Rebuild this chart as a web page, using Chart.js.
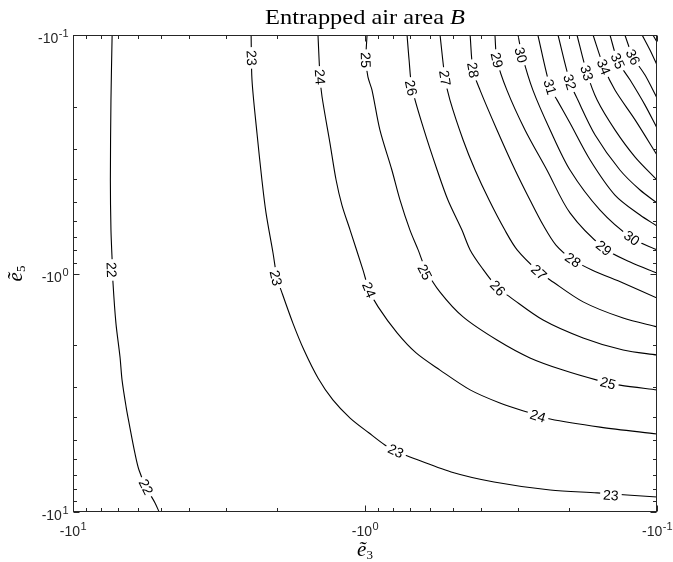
<!DOCTYPE html>
<html>
<head>
<meta charset="utf-8">
<script src="https://cdn.jsdelivr.net/npm/chart.js@4.4.1/dist/chart.umd.min.js"></script>
<style>
  html, body { margin: 0; padding: 0; background: #fff; }
  #wrap { width: 673px; height: 562px; position: relative; }
</style>
</head>
<body>
<div id="wrap"><canvas id="contour"></canvas></div>
<script>
// axes are in decades: x = -log10(-e3), y = -log10(-e5)
const levels = [22, 23, 24, 25, 26, 27, 28, 29, 30, 31, 32, 33, 34, 35, 36, 37, 38];

const c22 = [[-0.866,1.000],[-0.870,0.727],[-0.872,0.392],[-0.870,0.182],[-0.866,0.057],[-0.863,-0.040],[-0.853,-0.208],[-0.839,-0.350],[-0.832,-0.447],[-0.818,-0.560],[-0.808,-0.627],[-0.788,-0.753],[-0.774,-0.824],[-0.750,-0.895],[-0.719,-0.962],[-0.705,-1.000]];
const c23 = [[-0.390,1.000],[-0.387,0.811],[-0.370,0.589],[-0.353,0.392],[-0.339,0.254],[-0.315,0.086],[-0.301,-0.019],[-0.284,-0.082],[-0.247,-0.208],[-0.209,-0.321],[-0.161,-0.438],[-0.110,-0.530],[-0.051,-0.606],[0.014,-0.669],[0.068,-0.719],[0.106,-0.744],[0.154,-0.769],[0.295,-0.832],[0.442,-0.874],[0.634,-0.908],[0.795,-0.920],[1.000,-0.937]];
const c24 = [[-0.161,1.000],[-0.154,0.824],[-0.147,0.740],[-0.120,0.547],[-0.099,0.392],[-0.079,0.287],[-0.051,0.182],[-0.007,0.015],[0.014,-0.069],[0.045,-0.140],[0.110,-0.249],[0.175,-0.333],[0.257,-0.405],[0.360,-0.488],[0.462,-0.543],[0.555,-0.581],[0.634,-0.610],[0.805,-0.644],[1.000,-0.673]];
const c25 = [[0.007,1.000],[0.003,0.895],[0.010,0.824],[0.024,0.769],[0.051,0.602],[0.092,0.434],[0.120,0.308],[0.154,0.182],[0.182,0.099],[0.209,0.015],[0.257,-0.078],[0.336,-0.182],[0.452,-0.279],[0.565,-0.354],[0.678,-0.405],[0.795,-0.447],[0.873,-0.468],[1.000,-0.488]];
const c26 = [[0.144,1.000],[0.151,0.895],[0.161,0.778],[0.202,0.602],[0.247,0.434],[0.284,0.308],[0.332,0.182],[0.360,0.099],[0.401,0.023],[0.455,-0.061],[0.497,-0.099],[0.610,-0.195],[0.747,-0.270],[0.884,-0.321],[1.000,-0.342]];
const c27 = [[0.257,1.000],[0.274,0.820],[0.291,0.727],[0.336,0.560],[0.377,0.434],[0.425,0.308],[0.479,0.182],[0.521,0.099],[0.596,0.006],[0.634,-0.027],[0.747,-0.119],[0.884,-0.187],[1.000,-0.224]];
const c28 = [[0.360,1.000],[0.370,0.853],[0.394,0.769],[0.452,0.602],[0.514,0.434],[0.565,0.308],[0.610,0.203],[0.654,0.119],[0.712,0.057],[0.777,0.015],[0.884,-0.040],[1.000,-0.103]];
const c29 = [[0.445,1.000],[0.452,0.895],[0.486,0.769],[0.548,0.602],[0.623,0.434],[0.702,0.254],[0.818,0.107],[0.908,0.048],[1.000,0.002]];
const c30 = [[0.524,1.000],[0.538,0.916],[0.575,0.769],[0.634,0.602],[0.702,0.434],[0.805,0.266],[0.914,0.149],[1.000,0.099]];
const c31 = [[0.592,1.000],[0.634,0.782],[0.658,0.727],[0.702,0.631],[0.771,0.476],[0.856,0.329],[0.942,0.245],[1.000,0.199]];
const c32 = [[0.661,1.000],[0.702,0.803],[0.729,0.727],[0.788,0.581],[0.873,0.434],[0.942,0.350],[1.000,0.296]];
const c33 = [[0.726,1.000],[0.760,0.841],[0.795,0.727],[0.856,0.602],[0.925,0.488],[1.000,0.392]];
const c34 = [[0.781,1.000],[0.818,0.866],[0.856,0.769],[0.925,0.644],[1.000,0.497]];
const c35 = [[0.839,1.000],[0.866,0.891],[0.908,0.811],[0.959,0.706],[1.000,0.610]];
const c36 = [[0.890,1.000],[0.918,0.908],[0.959,0.832],[1.000,0.736]];
const c37 = [[0.949,1.000],[0.976,0.937],[1.000,0.874]];
const c38 = [[0.986,1.000],[1.000,0.971]];
const contourLines = [c22, c23, c24, c25, c26, c27, c28, c29, c30, c31, c32, c33, c34, c35, c36, c37, c38];

// inline labels: [level, x, y]
const labelSpots = [
  [22,-0.868,0.015],[22,-0.750,-0.895],
  [23,-0.388,0.904],[23,-0.305,-0.019],[23,0.106,-0.744],[23,0.842,-0.929],
  [24,-0.154,0.824],[24,0.014,-0.069],[24,0.592,-0.597],
  [25,0.003,0.895],[25,0.205,0.006],[25,0.832,-0.459],
  [26,0.158,0.778],[26,0.455,-0.061],
  [27,0.274,0.820],[27,0.596,0.006],
  [28,0.370,0.853],[28,0.712,0.057],
  [29,0.452,0.895],[29,0.818,0.107],
  [30,0.534,0.916],[30,0.914,0.149],
  [31,0.634,0.782],[32,0.702,0.803],[33,0.760,0.841],[34,0.818,0.866],[35,0.866,0.891],[36,0.918,0.908]
];

const majorTicks = [-1, 0, 1];
const majorExps = ['1', '0', '-1'];
const minorMantissas = [2, 3, 4, 5, 6, 7, 8, 9];

const AXIS = '#262626';
const SANS = '"Liberation Sans", Arial, Helvetica, sans-serif';
const SERIF = '"Liberation Serif", "Times New Roman", serif';

function drawPow(ctx, exp, x, y, align) {
  ctx.font = '14px ' + SANS;
  const wb = ctx.measureText('-10').width;
  ctx.font = '11px ' + SANS;
  const we = ctx.measureText(exp).width;
  const total = wb + we;
  let x0 = align === 'right' ? x - total : x - total / 2;
  ctx.textAlign = 'left';
  ctx.textBaseline = 'alphabetic';
  ctx.font = '14px ' + SANS;
  ctx.fillText('-10', x0, y);
  ctx.font = '11px ' + SANS;
  ctx.fillText(exp, x0 + wb + 0.5, y - 6);
}

function labelAngle(chart, pts, lx, ly) {
  const xs = chart.scales.x, ys = chart.scales.y;
  const px = xs.getPixelForValue(lx), py = ys.getPixelForValue(ly);
  let best = 0, bd = Infinity;
  pts.forEach((p, i) => {
    const d = Math.hypot(xs.getPixelForValue(p[0]) - px, ys.getPixelForValue(p[1]) - py);
    if (d < bd) { bd = d; best = i; }
  });
  const a = pts[Math.max(0, best - 1)], b = pts[Math.min(pts.length - 1, best + 1)];
  let ang = Math.atan2(ys.getPixelForValue(b[1]) - ys.getPixelForValue(a[1]),
                       xs.getPixelForValue(b[0]) - xs.getPixelForValue(a[0]));
  if (ang > Math.PI / 2) ang -= Math.PI;
  if (ang <= -Math.PI / 2) ang += Math.PI;
  return ang;
}

const plotFrame = {
  id: 'plotFrame',
  beforeDraw(chart) {
    const ctx = chart.ctx;
    ctx.save();
    ctx.fillStyle = '#fff';
    ctx.fillRect(0, 0, chart.width, chart.height);
    ctx.restore();
  },
  afterDatasetsDraw(chart) {
    const ctx = chart.ctx;
    const xs = chart.scales.x, ys = chart.scales.y;
    const { left, right, top, bottom } = chart.chartArea;

    // contour labels with a white gap in the line
    ctx.save();
    ctx.font = '14px ' + SANS;
    labelSpots.forEach(([lev, lx, ly]) => {
      const pts = contourLines[levels.indexOf(lev)];
      const ang = labelAngle(chart, pts, lx, ly);
      const txt = String(lev);
      const tw = ctx.measureText(txt).width;
      ctx.save();
      ctx.translate(xs.getPixelForValue(lx), ys.getPixelForValue(ly));
      ctx.rotate(ang);
      ctx.fillStyle = '#fff';
      ctx.fillRect(-tw / 2 - 3, -6, tw + 6, 12);
      ctx.fillStyle = '#000';
      ctx.textAlign = 'center';
      ctx.textBaseline = 'middle';
      ctx.fillText(txt, 0, 1);
      ctx.restore();
    });
    ctx.restore();

    // box and inward ticks
    ctx.save();
    ctx.strokeStyle = AXIS;
    ctx.lineWidth = 1;
    const L = Math.round(left) + 0.5, R = Math.round(right) - 0.5;
    const T = Math.round(top) + 0.5, B = Math.round(bottom) - 0.5;
    ctx.strokeRect(L, T, R - L, B - T);
    const minor = [];
    minorMantissas.forEach(m => { minor.push(-Math.log10(m)); minor.push(1 - Math.log10(m)); });
    const tick = (v, len) => {
      const xp = Math.round(xs.getPixelForValue(v)) + 0.5;
      const yp = Math.round(ys.getPixelForValue(v)) + 0.5;
      ctx.beginPath();
      ctx.moveTo(xp, B); ctx.lineTo(xp, B - len);
      ctx.moveTo(xp, T); ctx.lineTo(xp, T + len);
      ctx.moveTo(L, yp); ctx.lineTo(L + len, yp);
      ctx.moveTo(R, yp); ctx.lineTo(R - len, yp);
      ctx.stroke();
    };
    majorTicks.forEach(v => tick(v, 6));
    minor.forEach(v => tick(v, 3.5));

    // tick labels
    ctx.fillStyle = AXIS;
    majorTicks.forEach((v, i) => {
      drawPow(ctx, majorExps[i], xs.getPixelForValue(v), bottom + 24, 'center');
      drawPow(ctx, majorExps[i], left - 5, ys.getPixelForValue(v) + 8, 'right');
    });

    // title
    ctx.fillStyle = '#000';
    const tNorm = 'Entrapped air area ';
    ctx.font = '21px ' + SERIF;
    const w1 = ctx.measureText(tNorm).width;
    ctx.font = 'italic 21px ' + SERIF;
    const w2 = ctx.measureText('B').width;
    const s = 200 / (w1 + w2);
    ctx.save();
    ctx.translate((left + right) / 2, 24);
    ctx.scale(s, 1);
    ctx.textAlign = 'left';
    ctx.textBaseline = 'alphabetic';
    ctx.font = '21px ' + SERIF;
    ctx.fillText(tNorm, -(w1 + w2) / 2, 0);
    ctx.font = 'italic 21px ' + SERIF;
    ctx.fillText('B', -(w1 + w2) / 2 + w1, 0);
    ctx.restore();

    // axis titles
    const axisTitle = (sub) => {
      ctx.font = 'italic 21px ' + SERIF;
      const we = ctx.measureText('\u1EBD').width;
      ctx.font = '13px ' + SERIF;
      const ws = ctx.measureText(sub).width;
      const x0 = -(we + ws) / 2;
      ctx.textAlign = 'left';
      ctx.font = 'italic 21px ' + SERIF;
      ctx.fillText('\u1EBD', x0, 0);
      ctx.font = '13px ' + SERIF;
      ctx.fillText(sub, x0 + we, 3);
    };
    ctx.save();
    ctx.translate((left + right) / 2, 556);
    axisTitle('3');
    ctx.restore();
    ctx.save();
    ctx.translate(22, (top + bottom) / 2);
    ctx.rotate(-Math.PI / 2);
    axisTitle('5');
    ctx.restore();
    ctx.restore();
  }
};

const datasets = contourLines.map((pts, i) => ({
  label: String(levels[i]),
  data: pts.map(p => ({ x: p[0], y: p[1] })),
  showLine: true,
  borderColor: '#000',
  borderWidth: 1.1,
  pointRadius: 0,
  tension: 0.3,
  fill: false
}));

new Chart(document.getElementById('contour'), {
  type: 'scatter',
  data: { datasets },
  options: {
    responsive: true,
    maintainAspectRatio: false,
    animation: false,
    layout: { padding: { left: 73, top: 35, right: 16, bottom: 50 } },
    plugins: { legend: { display: false }, tooltip: { enabled: false } },
    scales: {
      x: { type: 'linear', min: -1, max: 1, display: false },
      y: { type: 'linear', min: -1, max: 1, display: false }
    }
  },
  plugins: [plotFrame]
});
</script>
</body>
</html>
